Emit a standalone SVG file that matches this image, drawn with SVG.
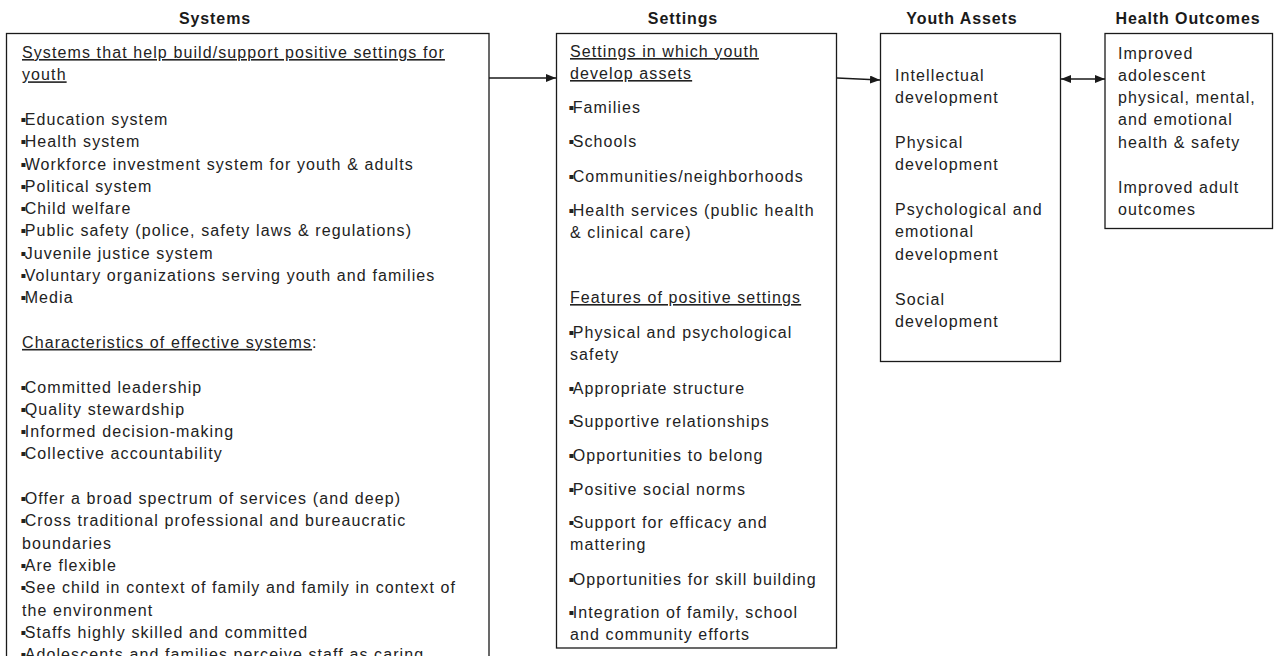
<svg xmlns="http://www.w3.org/2000/svg" width="1275" height="656" viewBox="0 0 1275 656">
<defs>
<style>
.box{fill:#fff;stroke:#1a1a1a;stroke-width:1.3}
.h{font-family:"Liberation Sans",Arial,sans-serif;font-size:16px;font-weight:bold;fill:#1a1a1a;letter-spacing:0.9px;text-anchor:middle}
.t{font-family:"Liberation Sans",Arial,sans-serif;font-size:16px;fill:#222;letter-spacing:1.1px}
.u{text-decoration:underline}
.b{font-size:16px;letter-spacing:-1.5px}
.c{stroke:#1a1a1a;stroke-width:1.3;fill:none}
</style>
<marker id="ah" viewBox="0 0 10 8" refX="10" refY="4" markerWidth="10" markerHeight="8" markerUnits="userSpaceOnUse" orient="auto-start-reverse">
<path d="M0,0 L10,4 L0,8 z" fill="#1a1a1a"/>
</marker>
</defs>
<rect width="1275" height="656" fill="#fff"/>

<g id="systems">
<text class="h" x="215" y="24">Systems</text>
<rect class="box" x="6.5" y="33.5" width="482.5" height="640"/>
<text class="t u" x="22" y="58">Systems that help build/support positive settings for</text>
<text class="t u" x="22" y="80.3">youth</text>
<text class="t" x="20.5" y="124.9"><tspan class="b">▪</tspan>Education system</text>
<text class="t" x="20.5" y="147.2"><tspan class="b">▪</tspan>Health system</text>
<text class="t" x="20.5" y="169.5"><tspan class="b">▪</tspan>Workforce investment system for youth &amp; adults</text>
<text class="t" x="20.5" y="191.8"><tspan class="b">▪</tspan>Political system</text>
<text class="t" x="20.5" y="214.1"><tspan class="b">▪</tspan>Child welfare</text>
<text class="t" x="20.5" y="236.4"><tspan class="b">▪</tspan>Public safety (police, safety laws &amp; regulations)</text>
<text class="t" x="20.5" y="258.7"><tspan class="b">▪</tspan>Juvenile justice system</text>
<text class="t" x="20.5" y="281"><tspan class="b">▪</tspan>Voluntary organizations serving youth and families</text>
<text class="t" x="20.5" y="303.3"><tspan class="b">▪</tspan>Media</text>
<text class="t" x="22" y="347.9"><tspan class="u">Characteristics of effective systems</tspan>:</text>
<text class="t" x="20.5" y="392.5"><tspan class="b">▪</tspan>Committed leadership</text>
<text class="t" x="20.5" y="414.8"><tspan class="b">▪</tspan>Quality stewardship</text>
<text class="t" x="20.5" y="437.1"><tspan class="b">▪</tspan>Informed decision-making</text>
<text class="t" x="20.5" y="459.4"><tspan class="b">▪</tspan>Collective accountability</text>
<text class="t" x="20.5" y="504"><tspan class="b">▪</tspan>Offer a broad spectrum of services (and deep)</text>
<text class="t" x="20.5" y="526.3"><tspan class="b">▪</tspan>Cross traditional professional and bureaucratic</text>
<text class="t" x="22" y="548.6">boundaries</text>
<text class="t" x="20.5" y="570.9"><tspan class="b">▪</tspan>Are flexible</text>
<text class="t" x="20.5" y="593.2"><tspan class="b">▪</tspan>See child in context of family and family in context of</text>
<text class="t" x="22" y="615.5">the environment</text>
<text class="t" x="20.5" y="637.8"><tspan class="b">▪</tspan>Staffs highly skilled and committed</text>
<text class="t" x="20.5" y="660.1"><tspan class="b">▪</tspan>Adolescents and families perceive staff as caring</text>
</g>

<g id="settings">
<text class="h" x="683" y="24">Settings</text>
<rect class="box" x="556.5" y="33.5" width="280" height="614.5"/>
<text class="t u" x="570" y="57">Settings in which youth</text>
<text class="t u" x="570" y="79">develop assets</text>
<text class="t" x="568.5" y="113"><tspan class="b">▪</tspan>Families</text>
<text class="t" x="568.5" y="147"><tspan class="b">▪</tspan>Schools</text>
<text class="t" x="568.5" y="181.5"><tspan class="b">▪</tspan>Communities/neighborhoods</text>
<text class="t" x="568.5" y="215.5"><tspan class="b">▪</tspan>Health services (public health</text>
<text class="t" x="570" y="237.8">&amp; clinical care)</text>
<text class="t u" x="570" y="303">Features of positive settings</text>
<text class="t" x="568.5" y="338"><tspan class="b">▪</tspan>Physical and psychological</text>
<text class="t" x="570" y="360.3">safety</text>
<text class="t" x="568.5" y="393.5"><tspan class="b">▪</tspan>Appropriate structure</text>
<text class="t" x="568.5" y="427"><tspan class="b">▪</tspan>Supportive relationships</text>
<text class="t" x="568.5" y="461"><tspan class="b">▪</tspan>Opportunities to belong</text>
<text class="t" x="568.5" y="494.5"><tspan class="b">▪</tspan>Positive social norms</text>
<text class="t" x="568.5" y="528"><tspan class="b">▪</tspan>Support for efficacy and</text>
<text class="t" x="570" y="550.3">mattering</text>
<text class="t" x="568.5" y="584.5"><tspan class="b">▪</tspan>Opportunities for skill building</text>
<text class="t" x="568.5" y="618"><tspan class="b">▪</tspan>Integration of family, school</text>
<text class="t" x="570" y="640.3">and community efforts</text>
</g>

<g id="youth-assets">
<text class="h" x="962" y="24">Youth Assets</text>
<rect class="box" x="880.5" y="33.5" width="180" height="328"/>
<text class="t" x="895" y="81">Intellectual</text>
<text class="t" x="895" y="103.3">development</text>
<text class="t" x="895" y="148">Physical</text>
<text class="t" x="895" y="170.3">development</text>
<text class="t" x="895" y="215">Psychological and</text>
<text class="t" x="895" y="237.3">emotional</text>
<text class="t" x="895" y="259.6">development</text>
<text class="t" x="895" y="305">Social</text>
<text class="t" x="895" y="327.3">development</text>
</g>

<g id="health-outcomes">
<text class="h" x="1188" y="24">Health Outcomes</text>
<rect class="box" x="1105" y="33.5" width="167.5" height="195"/>
<text class="t" x="1118" y="58.5">Improved</text>
<text class="t" x="1118" y="80.8">adolescent</text>
<text class="t" x="1118" y="103.1">physical, mental,</text>
<text class="t" x="1118" y="125.4">and emotional</text>
<text class="t" x="1118" y="147.7">health &amp; safety</text>
<text class="t" x="1118" y="193">Improved adult</text>
<text class="t" x="1118" y="215.3">outcomes</text>
</g>

<g id="connectors">
<line class="c" x1="489" y1="78" x2="556" y2="78" marker-end="url(#ah)"/>
<line class="c" x1="837" y1="78" x2="880" y2="80" marker-end="url(#ah)"/>
<line class="c" x1="1061" y1="79" x2="1105" y2="79" marker-start="url(#ah)" marker-end="url(#ah)"/>
</g>
</svg>
